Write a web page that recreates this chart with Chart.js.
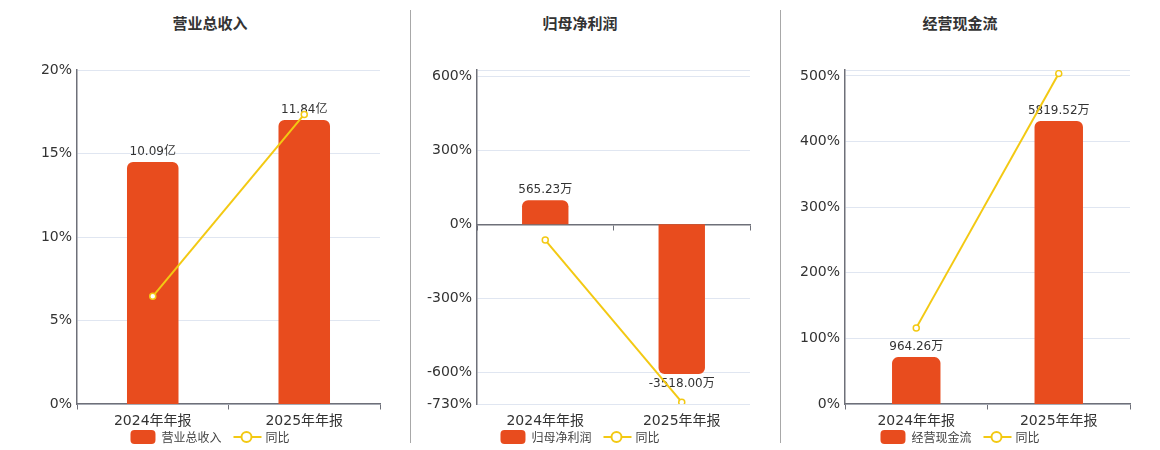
<!DOCTYPE html>
<html>
<head>
<meta charset="utf-8">
<script src="https://cdn.jsdelivr.net/npm/chart.js@4"></script>
<style>
  body { margin: 0; background: #fff; font-family: "DejaVu Sans", "Noto Sans CJK SC", sans-serif; }
  #wrap { position: relative; width: 1160px; height: 450px; overflow: hidden; }
  .panel { position: absolute; top: 0; height: 450px; }
  .title { position: absolute; top: 12px; transform: translateX(-50%); font: bold 15px "Noto Sans CJK SC", sans-serif; color: #333; white-space: nowrap; }
  .sep { position: absolute; top: 10px; width: 1px; height: 433px; background: #a8a8a8; }
  .legend { position: absolute; top: 428px; transform: translateX(-50%); display: flex; align-items: center; font: 12px "Noto Sans CJK SC", sans-serif; color: #444; white-space: nowrap; }
  .legend .box { width: 25px; height: 14px; border-radius: 4px; background: #e84c1e; margin-right: 6px; }
  .legend .ln { position: relative; width: 28px; height: 14px; margin: 0 4px 0 12px; }
  .legend .ln::before { content: ""; position: absolute; left: 0; right: 0; top: 6px; height: 2px; background: #f3c913; }
  .legend .ln::after { content: ""; position: absolute; left: 7px; top: 1px; width: 8px; height: 8px; border: 2px solid #f3c913; border-radius: 50%; background: #fff; }
</style>
</head>
<body>
<div id="wrap">
  <div class="sep" style="left:410px"></div>
  <div class="sep" style="left:780px"></div>
  <div class="title" style="left:210px">营业总收入</div>
  <div class="title" style="left:580px">归母净利润</div>
  <div class="title" style="left:960px">经营现金流</div>
  <div class="panel" style="left:0;width:400px"><canvas id="c1"></canvas></div>
  <div class="panel" style="left:410px;width:360px"><canvas id="c2"></canvas></div>
  <div class="panel" style="left:780px;width:370px"><canvas id="c3"></canvas></div>
  <div class="legend" style="left:210px"><span class="box"></span>营业总收入<span class="ln"></span>同比</div>
  <div class="legend" style="left:580px"><span class="box"></span>归母净利润<span class="ln"></span>同比</div>
  <div class="legend" style="left:960px"><span class="box"></span>经营现金流<span class="ln"></span>同比</div>
</div>
<script>
// Data
const categories = ['2024年年报', '2025年年报'];

const revenue = [10.09, 11.84];
const revenueText = ['10.09亿', '11.84亿'];
const revenueYoy = [6.45, 17.34];
const revenueTicks = [0, 5, 10, 15, 20];

const profit = [565.23, -3518.00];
const profitText = ['565.23万', '-3518.00万'];
const profitYoy = [-64, -722.4];
const profitTicks = [-730, -600, -300, 0, 300, 600];

const cash = [964.26, 5819.52];
const cashText = ['964.26万', '5819.52万'];
const cashYoy = [116, 503.5];
const cashTicks = [0, 100, 200, 300, 400, 500];

const barColor = '#e84c1e';
const lineColor = '#f3c913';
const axisColor = '#6e7079';
const gridColor = '#e0e6f1';
const fontFamily = '"DejaVu Sans", "Noto Sans CJK SC", sans-serif';

// draws the value text above (or below) each bar
const barLabels = {
    id: 'barLabels',
    afterDatasetDraw(chart, args, opts) {
        if (args.meta.type !== 'bar') return;
        const c = chart.ctx;
        c.save();
        c.font = '12px ' + fontFamily;
        c.fillStyle = '#333';
        c.textAlign = 'center';
        args.meta.data.forEach((bar, i) => {
            const v = chart.data.datasets[args.index].data[i];
            if (v >= 0) {
                c.textBaseline = 'bottom';
                c.fillText(opts.texts[i], bar.x, bar.y - 4);
            } else {
                c.textBaseline = 'top';
                c.fillText(opts.texts[i], bar.x, bar.y + 4);
            }
        });
        c.restore();
    }
};

function makeChart(id, name, values, texts, yoy, ticks, pMin, pMax, bMin, bMax, yWidth) {
    return new Chart(document.getElementById(id), {
        type: 'bar',
        data: {
            labels: categories,
            datasets: [
                {
                    type: 'line',
                    label: '同比',
                    data: yoy,
                    yAxisID: 'y',
                    borderColor: lineColor,
                    borderWidth: 2,
                    pointRadius: 3,
                    pointBorderWidth: 1.5,
                    pointBackgroundColor: '#fff',
                    pointBorderColor: lineColor,
                    order: 0
                },
                {
                    type: 'bar',
                    label: name,
                    data: values,
                    yAxisID: 'yb',
                    backgroundColor: barColor,
                    borderRadius: 6,
                    barPercentage: 0.34,
                    categoryPercentage: 1,
                    order: 1
                }
            ]
        },
        options: {
            responsive: true,
            maintainAspectRatio: false,
            animation: false,
            layout: { padding: { top: 70, right: 20, bottom: 6, left: 0 } },
            scales: {
                x: {
                    type: 'category',
                    offset: true,
                    grid: { display: false },
                    border: { display: false },
                    ticks: { color: '#333', padding: 1, font: { size: 14, family: fontFamily } },
                    afterFit: s => { s.height = 40; }
                },
                xz: {
                    type: 'category',
                    labels: categories,
                    position: { y: 0 },
                    offset: true,
                    grid: { offset: true, drawOnChartArea: false, drawTicks: true, tickLength: 5, color: axisColor },
                    border: { color: axisColor, width: 1.5 },
                    ticks: { display: false }
                },
                y: {
                    min: pMin,
                    max: pMax,
                    grid: { color: gridColor, drawTicks: false },
                    border: { color: axisColor, width: 1.5 },
                    afterBuildTicks: s => {
                        s.ticks = ticks.concat(ticks.includes(pMax) ? [] : [pMax]).map(v => ({ value: v }));
                    },
                    ticks: {
                        color: '#333',
                        padding: 5,
                        font: { size: 14, family: fontFamily },
                        callback: v => ticks.includes(v) ? v + '%' : ''
                    },
                    afterFit: s => { s.width = yWidth; }
                },
                yb: {
                    display: false,
                    min: bMin,
                    max: bMax
                }
            },
            plugins: {
                legend: { display: false },
                tooltip: { enabled: false },
                barLabels: { texts: texts }
            }
        },
        plugins: [barLabels]
    });
}

makeChart('c1', '营业总收入', revenue, revenueText, revenueYoy, revenueTicks, 0, 20, 0, 13.92, 77);
makeChart('c2', '归母净利润', profit, profitText, profitYoy, profitTicks, -730, 627, -4221, 3625, 67);
makeChart('c3', '经营现金流', cash, cashText, cashYoy, cashTicks, 0, 509, 0, 6870, 65);
</script>
</body>
</html>
